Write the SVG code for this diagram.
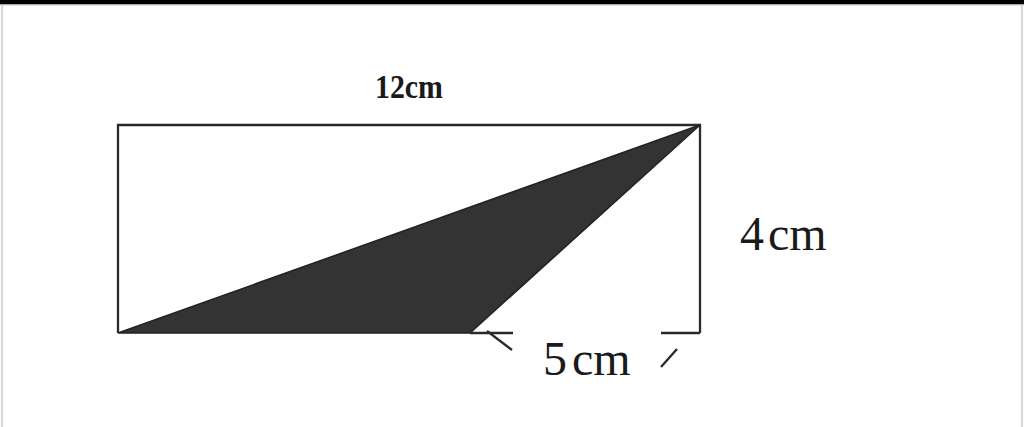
<svg xmlns="http://www.w3.org/2000/svg" width="1024" height="427" viewBox="0 0 1024 427">
<style>
.ln{stroke:#2a2a2a;stroke-width:2.3;fill:none}
.lbl{font-family:"Liberation Serif","Times New Roman",serif;fill:#1a1a1a}
</style>
<rect x="0" y="0" width="1024" height="427" fill="#ffffff"/>
<rect x="0" y="0" width="1024" height="4.5" fill="#000"/>
<line x1="0" y1="5" x2="1024" y2="5" stroke="#cfcfcf" stroke-width="1"/>
<line x1="2" y1="5" x2="2" y2="427" stroke="#d8d8d8" stroke-width="2"/>
<line x1="1022" y1="5" x2="1022" y2="427" stroke="#d8d8d8" stroke-width="2"/>
<g id="rectangle">
<polyline class="ln" points="118,333 118,125 700,125 700,333"/>
</g>
<g id="shaded-triangle">
<polygon points="118,333 700,125 470,333" fill="#333" stroke="#222" stroke-width="1.5"/>
</g>
<g id="connectors">
<line class="ln" x1="470" y1="333" x2="513" y2="333"/>
<line class="ln" x1="487" y1="331" x2="512" y2="350"/>
<line class="ln" x1="661" y1="333" x2="700" y2="333"/>
<line class="ln" x1="661" y1="367" x2="677" y2="349"/>
</g>
<g id="label-12cm"><text class="lbl" x="375" y="98" font-size="33" font-weight="bold" textLength="68" lengthAdjust="spacingAndGlyphs">12cm</text></g>
<g id="label-4cm"><text class="lbl" x="740" y="250" font-size="48">4<tspan dx="4">cm</tspan></text></g>
<g id="label-5cm"><text class="lbl" x="543" y="375" font-size="48">5<tspan dx="5">cm</tspan></text></g>
</svg>
